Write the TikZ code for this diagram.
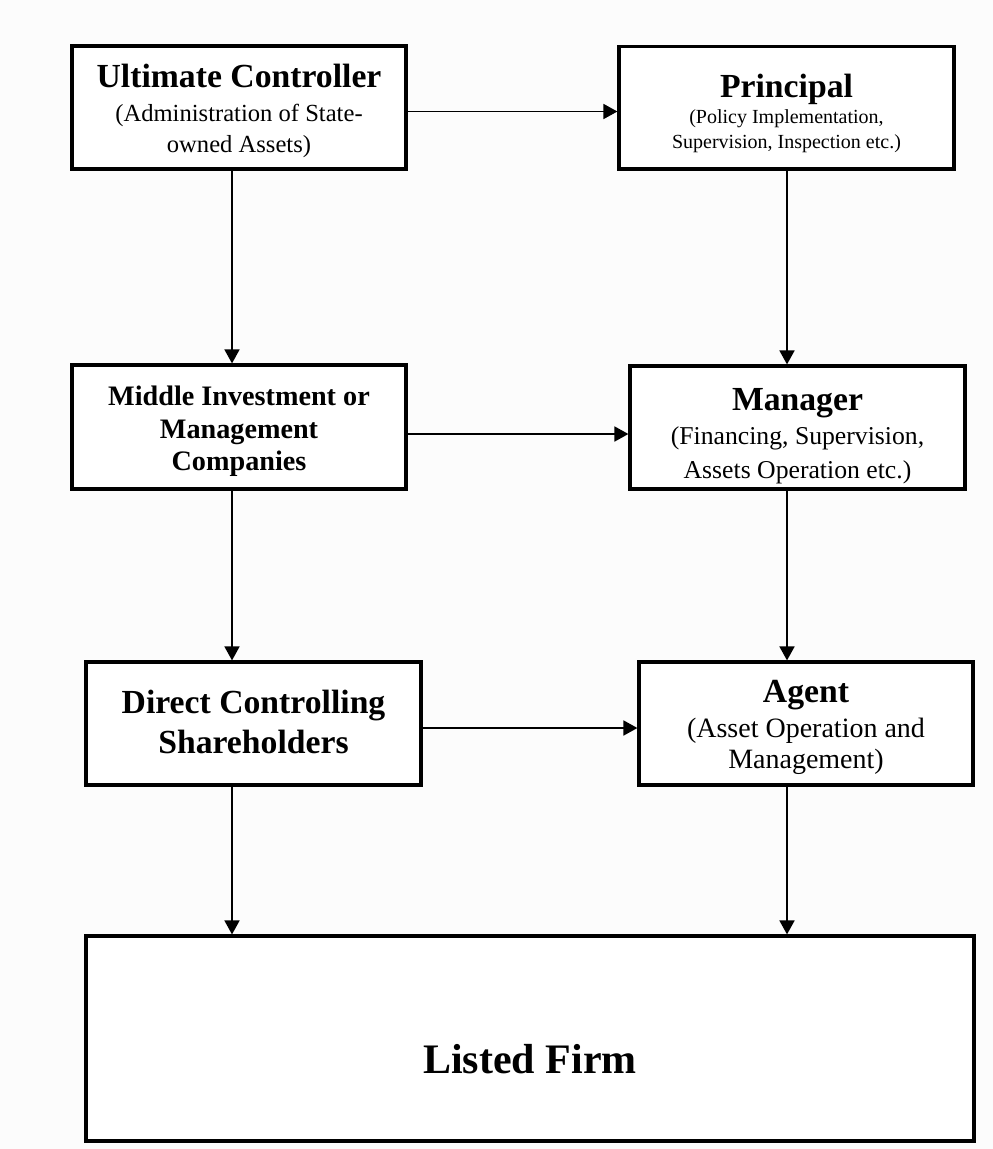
\documentclass[tikz,border=0pt]{standalone}
\usepackage{fontspec}
\setmainfont{Liberation Serif}
\usetikzlibrary{arrows.meta}
\definecolor{paper}{RGB}{252,252,252}
\tikzset{
  box/.style={draw=black, line width=3.2pt, fill=white, rectangle, inner sep=0pt},
  flow/.style={line width=1.8pt, -{Triangle[length=14pt,width=15pt]}},
  ttl/.style={anchor=base, inner sep=0pt, font=\fontsize{33.7}{40}\selectfont\bfseries},
  sub/.style={anchor=base, inner sep=0pt},
}
\begin{document}
\begin{tikzpicture}[x=1pt, y=-1pt]
  \fill[paper] (0,0) rectangle (993,1149);
  \useasboundingbox (0,0) rectangle (993,1149);

  % boxes
  \node[box, minimum width=334pt, minimum height=123pt] (uc) at (239,107.5) {};
  \node[box, minimum width=335pt, minimum height=122.5pt] (pr) at (786.5,107.75) {};
  \node[box, minimum width=334pt, minimum height=124pt] (mi) at (239,427) {};
  \node[box, minimum width=335pt, minimum height=123pt] (ma) at (797.5,427.5) {};
  \node[box, minimum width=335pt, minimum height=123pt] (dc) at (253.5,723.5) {};
  \node[box, minimum width=334pt, minimum height=123pt] (ag) at (806,723.5) {};
  \node[box, minimum width=888pt, minimum height=205pt] (lf) at (530,1038.5) {};

  % texts
  \node[ttl] (uc-t) at (uc.center |- 0,87) {Ultimate Controller};
  \node[sub, font=\fontsize{24.6}{31}\selectfont] (uc-s1) at (uc.center |- 0,121.5) {(Administration of State-};
  \node[sub, font=\fontsize{24.6}{31}\selectfont] (uc-s2) at (uc.center |- 0,152.5) {owned Assets)};

  \node[ttl] (pr-t) at (pr.center |- 0,97) {Principal};
  \node[sub, font=\fontsize{20}{25}\selectfont] (pr-s1) at (pr.center |- 0,123) {(Policy Implementation,};
  \node[sub, font=\fontsize{20}{25}\selectfont] (pr-s2) at (pr.center |- 0,148) {Supervision, Inspection etc.)};

  \node[ttl, font=\fontsize{28.2}{33}\selectfont\bfseries] (mi-1) at (mi.center |- 0,405) {Middle Investment or};
  \node[ttl, font=\fontsize{28.2}{33}\selectfont\bfseries] (mi-2) at (mi.center |- 0,438) {Management};
  \node[ttl, font=\fontsize{28.2}{33}\selectfont\bfseries] (mi-3) at (mi.center |- 0,470) {Companies};

  \node[ttl] (ma-t) at (ma.center |- 0,410) {Manager};
  \node[sub, font=\fontsize{25.7}{33}\selectfont] (ma-s1) at (ma.center |- 0,444) {(Financing, Supervision,};
  \node[sub, font=\fontsize{25.7}{33}\selectfont] (ma-s2) at (ma.center |- 0,478) {Assets Operation etc.)};

  \node[ttl] (dc-1) at (dc.center |- 0,713) {Direct Controlling};
  \node[ttl] (dc-2) at (dc.center |- 0,753) {Shareholders};

  \node[ttl] (ag-t) at (ag.center |- 0,702) {Agent};
  \node[sub, font=\fontsize{28}{31}\selectfont] (ag-s1) at (ag.center |- 0,737) {(Asset Operation and};
  \node[sub, font=\fontsize{28}{31}\selectfont] (ag-s2) at (ag.center |- 0,768) {Management)};

  \node[ttl, font=\fontsize{42}{48}\selectfont\bfseries] (lf-t) at (lf.center |- 0,1073) {Listed Firm};

  % connector columns and rows
  \coordinate (colL) at (232,0);
  \coordinate (colR) at (787,0);
  \coordinate (rowA) at (0,111.5);
  \coordinate (rowB) at (0,434);
  \coordinate (rowC) at (0,728);

  % horizontal links
  \draw[flow] (uc.east |- rowA) -- (pr.west |- rowA);
  \draw[flow] (mi.east |- rowB) -- (ma.west |- rowB);
  \draw[flow] (dc.east |- rowC) -- (ag.west |- rowC);

  % vertical links, left column
  \draw[flow] (uc.south -| colL) -- (mi.north -| colL);
  \draw[flow] (mi.south -| colL) -- (dc.north -| colL);
  \draw[flow] (dc.south -| colL) -- (lf.north -| colL);

  % vertical links, right column
  \draw[flow] (pr.south -| colR) -- (ma.north -| colR);
  \draw[flow] (ma.south -| colR) -- (ag.north -| colR);
  \draw[flow] (ag.south -| colR) -- (lf.north -| colR);
\end{tikzpicture}
\end{document}
